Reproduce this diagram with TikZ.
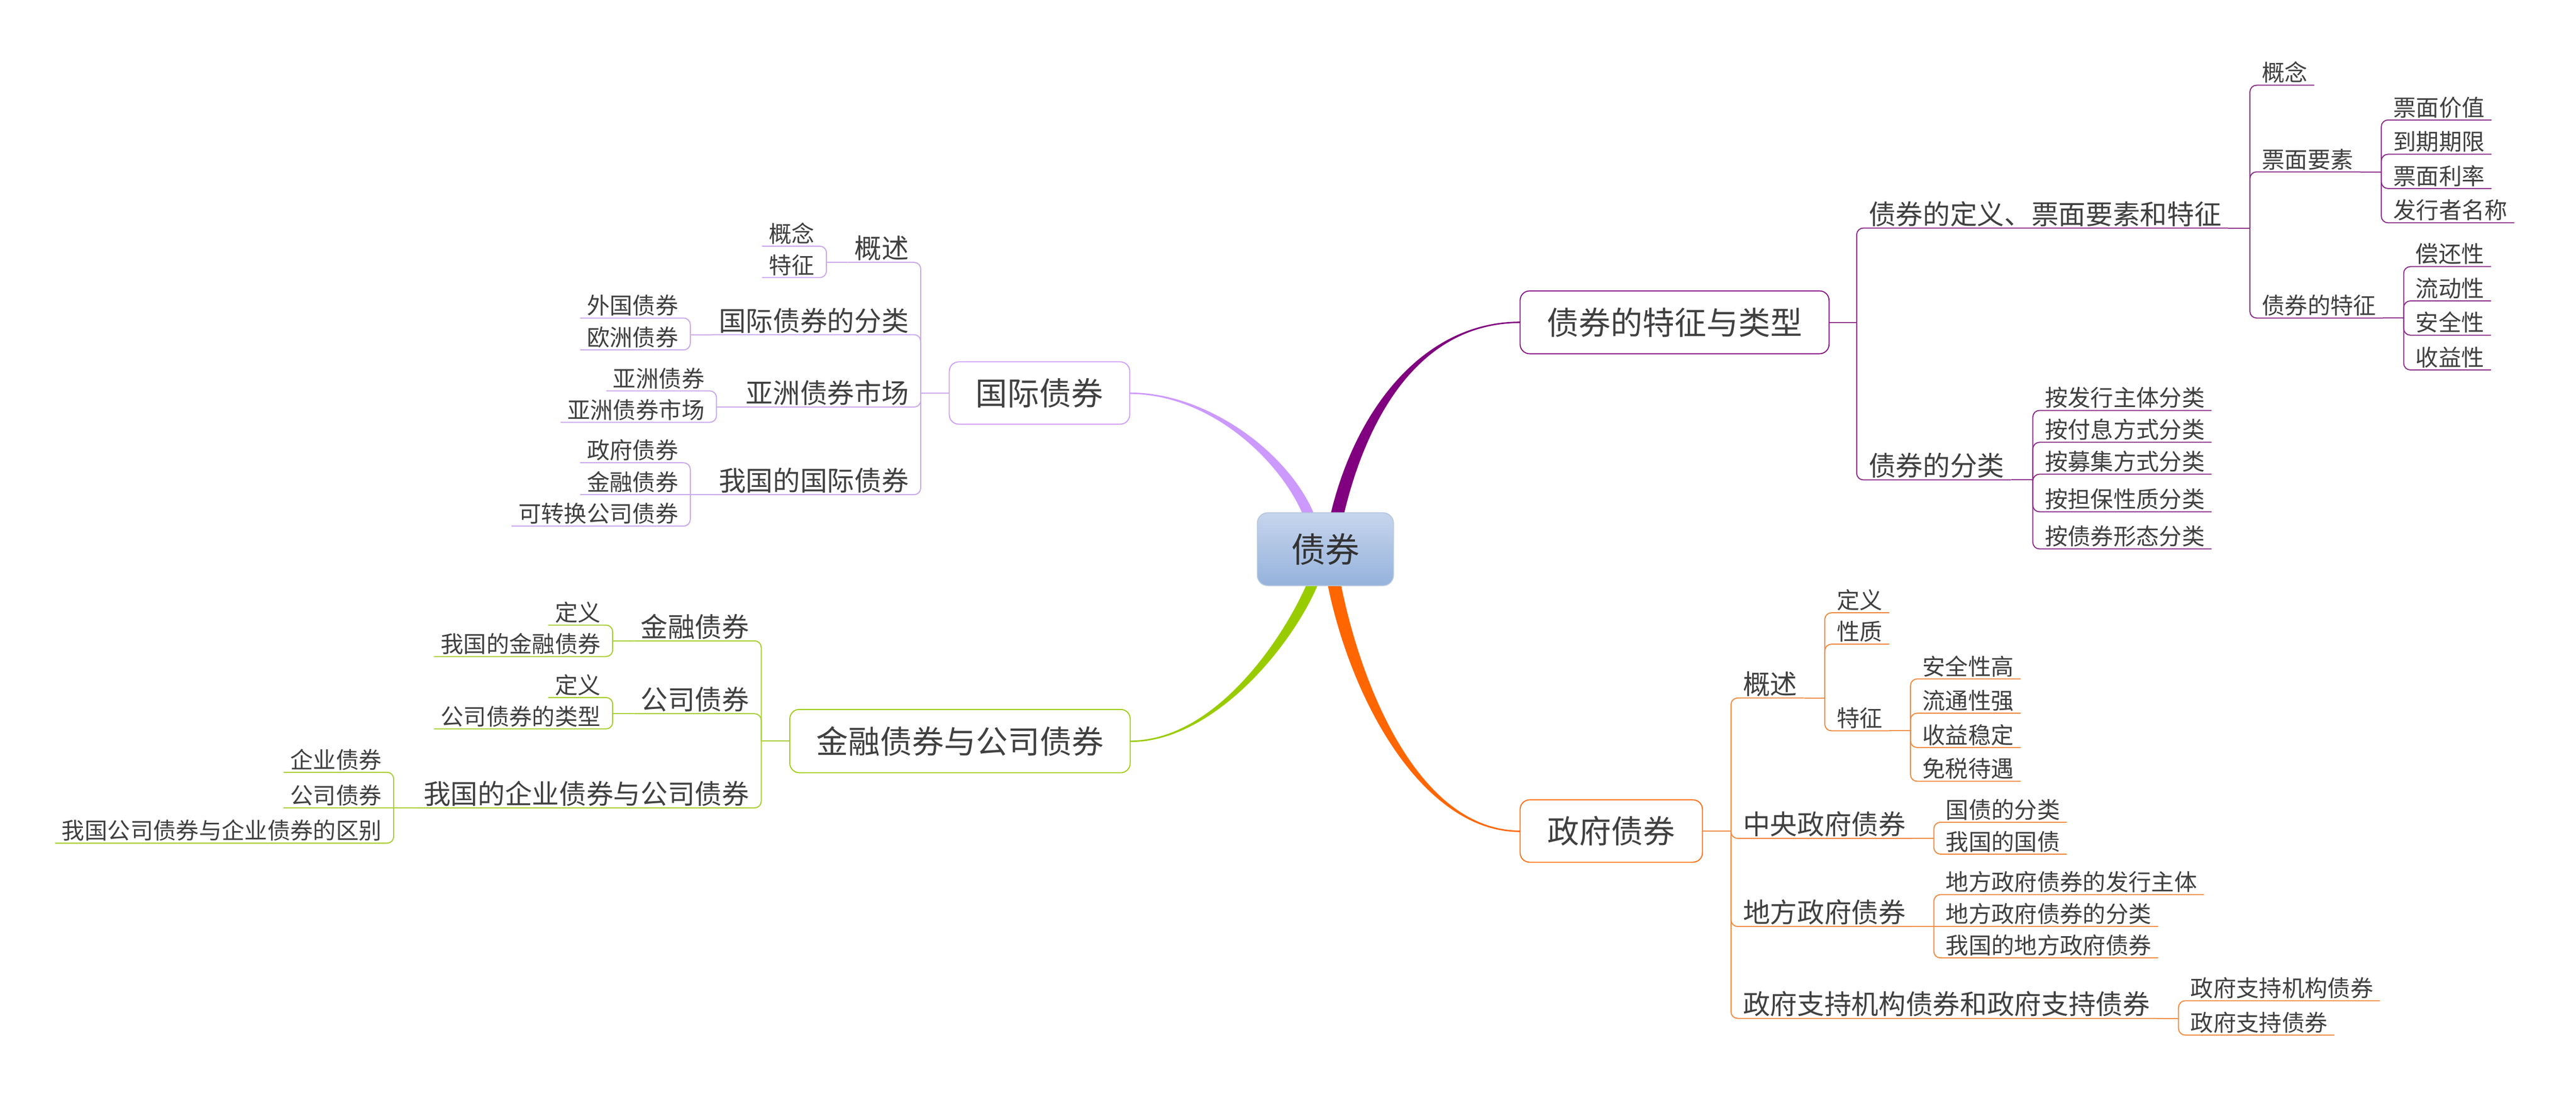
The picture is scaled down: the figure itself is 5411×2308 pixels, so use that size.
\documentclass[tikz,border=0pt]{standalone}
\usepackage{fontspec}
\newfontfamily\cjk{Noto Sans CJK SC}
\usetikzlibrary{calc}
\definecolor{cP}{HTML}{800080}
\definecolor{cPl}{HTML}{8A2D88}
\definecolor{cL}{HTML}{CC99FF}
\definecolor{cLl}{HTML}{C9A6EE}
\definecolor{cG}{HTML}{99CC00}
\definecolor{cGl}{HTML}{A6CD2E}
\definecolor{cO}{HTML}{FF6600}
\definecolor{cOl}{HTML}{F08A40}
\definecolor{txt}{HTML}{404040}
\definecolor{ctop}{HTML}{C6D5EC}
\definecolor{cbot}{HTML}{95B2DC}
\definecolor{cbd}{HTML}{B5C7DE}
\begin{document}
\begin{tikzpicture}[x=1pt,y=-1pt,
  tx/.style={text=txt, inner xsep=14pt, inner ysep=8pt, text depth=0pt},
  l2/.style={tx, font=\cjk\fontsize{57}{60}\selectfont},
  l3/.style={tx, font=\cjk\fontsize{48}{50}\selectfont},
  R/.style={anchor=south west, xshift=11pt},
  L/.style={anchor=south east, xshift=-11pt},
  br/.style={line width=2.2pt, rounded corners=14pt},
  pl/.style={br, draw=cPl}, ll/.style={br, draw=cLl},
  gl/.style={br, draw=cGl}, ol/.style={br, draw=cOl},
  mainbox/.style={rounded corners=20pt, line width=2pt, fill=white, text=txt,
    font=\cjk\fontsize{67}{70}\selectfont, inner sep=0pt}]
\useasboundingbox (0,0) rectangle (5411,2308);
\fill[white] (0,0) rectangle (5411,2308);

% ---------- main branch curves (tapered) ----------
\fill[cP] (2794,1084) .. controls (2846,860) and (2990,675.5) .. (3193,675.5)
  -- (3193,678.5) .. controls (2990,678.5) and (2874,862) .. (2822,1084) -- cycle;
\fill[cL] (2738,1084) .. controls (2689,965) and (2540,827.5) .. (2373,827.5)
  -- (2373,824.5) .. controls (2540,824.5) and (2711,955) .. (2762,1084) -- cycle;
\fill[cG] (2746,1224) .. controls (2694,1345) and (2550,1555.5) .. (2374,1555.5)
  -- (2374,1558.5) .. controls (2550,1558.5) and (2716,1355) .. (2770,1224) -- cycle;
\fill[cO] (2788,1224) .. controls (2838,1475) and (2990,1747.5) .. (3193,1747.5)
  -- (3193,1744.5) .. controls (2990,1744.5) and (2864,1465) .. (2816,1224) -- cycle;

% ---------- centre ----------
\node[draw=cbd, line width=2pt, rounded corners=22pt, minimum width=286pt,
  minimum height=153pt, top color=ctop, middle color=cbot, bottom color=cbot,
  text=black!80, font=\cjk\fontsize{72}{75}\selectfont, inner sep=0pt]
  (C) at (2784,1153.5) {债券};

% ================= purple: 债券的特征与类型 =================
\node[mainbox, draw=cP, minimum width=649pt, minimum height=132pt] (P) at (3517.5,677) {债券的特征与类型};
\coordinate (jP) at (3900,677);
\draw[pl] (P.east) -- (jP);
\node[l2,R] (p1) at (3900,479) {债券的定义、票面要素和特征};
\node[l2,R] (p2) at (3900,1008) {债券的分类};
\draw[pl] (jP) -- (jP |- p1.south) -- (p1.south east);
\draw[pl] (jP) -- (jP |- p2.south) -- (p2.south east);
\coordinate (jp1) at (4726,479);
\draw[pl] (p1.south east) -- (jp1);
\node[l3,R] (p11) at (4726,179) {概念};
\node[l3,R] (p12) at (4726,361) {票面要素};
\node[l3,R] (p13) at (4726,668) {债券的特征};
\foreach \n in {p11,p12,p13} \draw[pl] (jp1) -- (jp1 |- \n.south) -- (\n.south east);
\coordinate (jp12) at (5002,361);
\draw[pl] (p12.south east) -- (jp12);
\node[l3,R] (p121) at (5002,252) {票面价值};
\node[l3,R] (p122) at (5002,324) {到期期限};
\node[l3,R] (p123) at (5002,396) {票面利率};
\node[l3,R] (p124) at (5002,468) {发行者名称};
\foreach \n in {p121,p122,p123,p124} \draw[pl] (jp12) -- (jp12 |- \n.south) -- (\n.south east);
\coordinate (jp13) at (5049,668);
\draw[pl] (p13.south east) -- (jp13);
\node[l3,R] (p131) at (5049,560) {偿还性};
\node[l3,R] (p132) at (5049,632) {流动性};
\node[l3,R] (p133) at (5049,704) {安全性};
\node[l3,R] (p134) at (5049,777) {收益性};
\foreach \n in {p131,p132,p133,p134} \draw[pl] (jp13) -- (jp13 |- \n.south) -- (\n.south east);
\coordinate (jp2) at (4270,1008);
\draw[pl] (p2.south east) -- (jp2);
\node[l3,R] (p21) at (4270,862) {按发行主体分类};
\node[l3,R] (p22) at (4270,929) {按付息方式分类};
\node[l3,R] (p23) at (4270,996) {按募集方式分类};
\node[l3,R] (p24) at (4270,1075) {按担保性质分类};
\node[l3,R] (p25) at (4270,1153) {按债券形态分类};
\foreach \n in {p21,p22,p23,p24,p25} \draw[pl] (jp2) -- (jp2 |- \n.south) -- (\n.south east);

% ================= lilac: 国际债券 =================
\node[mainbox, draw=cL, minimum width=379pt, minimum height=131pt] (Lb) at (2183.5,825.5) {国际债券};
\coordinate (jL) at (1934,825.5);
\draw[ll] (Lb.west) -- (jL);
\node[l2,L] (l1) at (1934,551) {概述};
\node[l2,L] (l2) at (1934,703) {国际债券的分类};
\node[l2,L] (l3) at (1934,855) {亚洲债券市场};
\node[l2,L] (l4) at (1934,1039) {我国的国际债券};
\foreach \n in {l1,l2,l3,l4} \draw[ll] (jL) -- (jL |- \n.south) -- (\n.south west);
\coordinate (jl1) at (1736,551);
\draw[ll] (l1.south west) -- (jl1);
\node[l3,L] (l11) at (1736,517) {概念};
\node[l3,L] (l12) at (1736,583) {特征};
\foreach \n in {l11,l12} \draw[ll] (jl1) -- (jl1 |- \n.south) -- (\n.south west);
\coordinate (jl2) at (1450,703);
\draw[ll] (l2.south west) -- (jl2);
\node[l3,L] (l21) at (1450,668) {外国债券};
\node[l3,L] (l22) at (1450,735) {欧洲债券};
\foreach \n in {l21,l22} \draw[ll] (jl2) -- (jl2 |- \n.south) -- (\n.south west);
\coordinate (jl3) at (1505,855);
\draw[ll] (l3.south west) -- (jl3);
\node[l3,L] (l31) at (1505,821) {亚洲债券};
\node[l3,L] (l32) at (1505,887) {亚洲债券市场};
\foreach \n in {l31,l32} \draw[ll] (jl3) -- (jl3 |- \n.south) -- (\n.south west);
\coordinate (jl4) at (1450,1039);
\draw[ll] (l4.south west) -- (jl4);
\node[l3,L] (l41) at (1450,972) {政府债券};
\node[l3,L] (l42) at (1450,1039) {金融债券};
\node[l3,L] (l43) at (1450,1105) {可转换公司债券};
\foreach \n in {l41,l43} \draw[ll] (jl4) -- (jl4 |- \n.south) -- (\n.south west);
\draw[ll] (jl4) -- (l42.south west);

% ================= green: 金融债券与公司债券 =================
\node[mainbox, draw=cG, minimum width=715pt, minimum height=133pt] (G) at (2016.5,1556.5) {金融债券与公司债券};
\coordinate (jG) at (1599,1556.5);
\draw[gl] (G.west) -- (jG);
\node[l2,L] (g1) at (1599,1346) {金融债券};
\node[l2,L] (g2) at (1599,1499) {公司债券};
\node[l2,L] (g3) at (1599,1697) {我国的企业债券与公司债券};
\foreach \n in {g1,g2,g3} \draw[gl] (jG) -- (jG |- \n.south) -- (\n.south west);
\coordinate (jg1) at (1287,1346);
\draw[gl] (g1.south west) -- (jg1);
\node[l3,L] (g11) at (1287,1313) {定义};
\node[l3,L] (g12) at (1287,1379) {我国的金融债券};
\foreach \n in {g11,g12} \draw[gl] (jg1) -- (jg1 |- \n.south) -- (\n.south west);
\coordinate (jg2) at (1287,1499);
\draw[gl] (g2.south west) -- (jg2);
\node[l3,L] (g21) at (1287,1465) {定义};
\node[l3,L] (g22) at (1287,1531) {公司债券的类型};
\foreach \n in {g21,g22} \draw[gl] (jg2) -- (jg2 |- \n.south) -- (\n.south west);
\coordinate (jg3) at (827,1697);
\draw[gl] (g3.south west) -- (jg3);
\node[l3,L] (g31) at (827,1622) {企业债券};
\node[l3,L] (g32) at (827,1697) {公司债券};
\node[l3,L] (g33) at (827,1771) {我国公司债券与企业债券的区别};
\foreach \n in {g31,g33} \draw[gl] (jg3) -- (jg3 |- \n.south) -- (\n.south west);
\draw[gl] (jg3) -- (g32.south west);

% ================= orange: 政府债券 =================
\node[mainbox, draw=cO, minimum width=383pt, minimum height=131pt] (O) at (3384.5,1745.5) {政府债券};
\coordinate (jO) at (3636,1745.5);
\draw[ol] (O.east) -- (jO);
\node[l2,R] (o1) at (3636,1466) {概述};
\node[l2,R] (o2) at (3636,1761) {中央政府债券};
\node[l2,R] (o3) at (3636,1946) {地方政府债券};
\node[l2,R] (o4) at (3636,2139) {政府支持机构债券和政府支持债券};
\foreach \n in {o1,o2,o3,o4} \draw[ol] (jO) -- (jO |- \n.south) -- (\n.south east);
\coordinate (jo1) at (3833,1466);
\draw[ol] (o1.south east) -- (jo1);
\node[l3,R] (o11) at (3833,1287) {定义};
\node[l3,R] (o12) at (3833,1353) {性质};
\node[l3,R] (o13) at (3833,1535) {特征};
\foreach \n in {o11,o12,o13} \draw[ol] (jo1) -- (jo1 |- \n.south) -- (\n.south east);
\coordinate (jo13) at (4013,1535);
\draw[ol] (o13.south east) -- (jo13);
\node[l3,R] (o131) at (4013,1426) {安全性高};
\node[l3,R] (o132) at (4013,1498) {流通性强};
\node[l3,R] (o133) at (4013,1570) {收益稳定};
\node[l3,R] (o134) at (4013,1641) {免税待遇};
\foreach \n in {o131,o132,o133,o134} \draw[ol] (jo13) -- (jo13 |- \n.south) -- (\n.south east);
\coordinate (jo2) at (4062,1761);
\draw[ol] (o2.south east) -- (jo2);
\node[l3,R] (o21) at (4062,1727) {国债的分类};
\node[l3,R] (o22) at (4062,1794) {我国的国债};
\foreach \n in {o21,o22} \draw[ol] (jo2) -- (jo2 |- \n.south) -- (\n.south east);
\coordinate (jo3) at (4062,1946);
\draw[ol] (o3.south east) -- (jo3);
\node[l3,R] (o31) at (4062,1879) {地方政府债券的发行主体};
\node[l3,R] (o32) at (4062,1946) {地方政府债券的分类};
\node[l3,R] (o33) at (4062,2012) {我国的地方政府债券};
\foreach \n in {o31,o33} \draw[ol] (jo3) -- (jo3 |- \n.south) -- (\n.south east);
\draw[ol] (jo3) -- (o32.south east);
\coordinate (jo4) at (4576,2139);
\draw[ol] (o4.south east) -- (jo4);
\node[l3,R] (o41) at (4576,2102) {政府支持机构债券};
\node[l3,R] (o42) at (4576,2174) {政府支持债券};
\foreach \n in {o41,o42} \draw[ol] (jo4) -- (jo4 |- \n.south) -- (\n.south east);
\end{tikzpicture}
\end{document}
